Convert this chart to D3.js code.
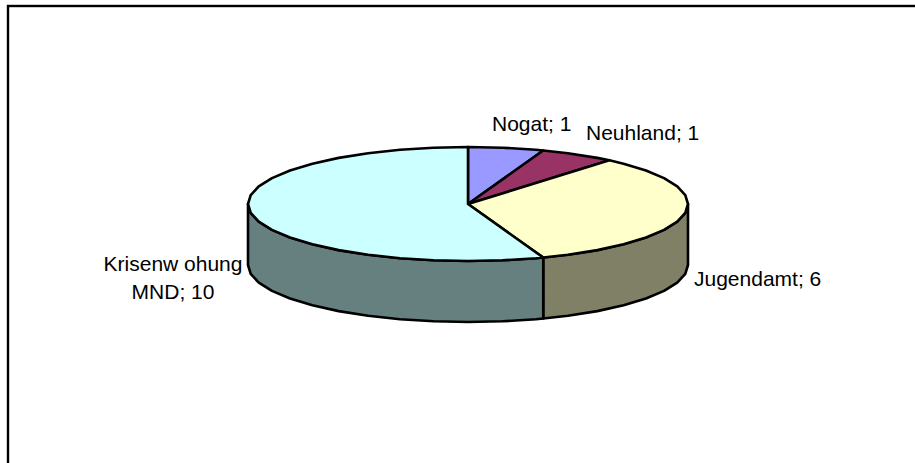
<!DOCTYPE html>
<html>
<head>
<meta charset="utf-8">
<script src="https://cdn.jsdelivr.net/npm/d3@7"></script>
<style>
  html, body { margin: 0; padding: 0; background: #fff; }
  svg { display: block; }
  text { font-family: "Liberation Sans", Arial, sans-serif; font-size: 21px; fill: #000; }
</style>
</head>
<body>
<div id="chart"></div>
<script>
const categories = ['Nogat', 'Neuhland', 'Jugendamt', 'Krisenwohnung MND'];
const values = [1, 1, 6, 10];
const topColors = ['#9999ff', '#993366', '#ffffcc', '#ccffff'];
const sideColors = ['#66667f', '#66334c', '#808066', '#668080'];

const width = 915, height = 463;
const cx = 468, cy = 204, rx = 220, ry = 57, depth = 61;

const svg = d3.select('#chart').append('svg')
    .attr('width', width)
    .attr('height', height);

// frame, only top and left show inside the picture
svg.append('rect')
    .attr('x', 8).attr('y', 6)
    .attr('width', 1000).attr('height', 1000)
    .attr('fill', '#fff').attr('stroke', '#000').attr('stroke-width', 2.4);

const slices = d3.pie().sort(null).value(d => d)(values);

// angle (0 = up, clockwise) to a point on the tilted ellipse
const px = a => cx + rx * Math.sin(a);
const py = a => cy - ry * Math.cos(a);

// the original outline is a coarse polygon, so keep a shared grid of vertices
const step = Math.PI / 20;
function arcPoints(a0, a1) {
    const inner = d3.range(Math.ceil(a0 / step + 1e-6), Math.floor(a1 / step - 1e-6) + 1).map(k => k * step);
    return [a0].concat(inner, [a1]).map(a => [px(a), py(a)]);
}

const line = d3.line();
const g = svg.append('g').attr('stroke', '#000').attr('stroke-width', 2.6).attr('stroke-linejoin', 'round');

// side walls, only the front half of the disc is visible
slices.forEach((s, i) => {
    const a0 = Math.max(s.startAngle, Math.PI / 2);
    const a1 = Math.min(s.endAngle, Math.PI * 1.5);
    if (a1 <= a0) return;
    const upper = arcPoints(a0, a1);
    const lower = upper.map(p => [p[0], p[1] + depth]).reverse();
    g.append('path')
        .attr('d', line(upper.concat(lower)) + 'Z')
        .attr('fill', sideColors[i]);
});

// top faces
slices.forEach((s, i) => {
    g.append('path')
        .attr('d', line([[cx, cy]].concat(arcPoints(s.startAngle, s.endAngle))) + 'Z')
        .attr('fill', topColors[i]);
});

// labels
const labels = [
    { lines: [categories[0] + '; ' + values[0]], x: 492, y: 131, anchor: 'start' },
    { lines: [categories[1] + '; ' + values[1]], x: 586, y: 140, anchor: 'start' },
    { lines: [categories[2] + '; ' + values[2]], x: 694, y: 286, anchor: 'start' },
    { lines: ['Krisenw ohung', 'MND; ' + values[3]], x: 173, y: 271, anchor: 'middle' }
];
labels.forEach(l => {
    l.lines.forEach((t, i) => {
        svg.append('text')
            .attr('x', l.x).attr('y', l.y + i * 28)
            .attr('text-anchor', l.anchor)
            .text(t);
    });
});
</script>
</body>
</html>
